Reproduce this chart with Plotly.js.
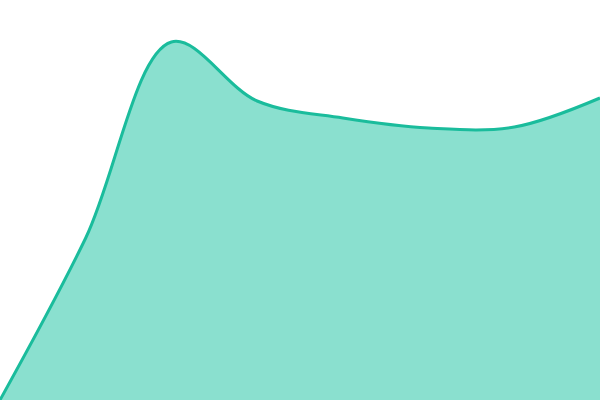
<!DOCTYPE html>
<html>
<head>
<meta charset="utf-8">
<script src="https://cdn.plot.ly/plotly-3.0.1.min.js"></script>
<style>
  html, body { margin: 0; padding: 0; background: #fff; }
  #chart { width: 600px; height: 400px; }
</style>
</head>
<body>
<div id="chart"></div>
<script>
// evenly spaced samples
const steps = [0, 1, 2, 3, 4, 5, 6, 7];
const values = [0, 162, 358, 299, 282, 272, 273, 302];

const area = {
    x: steps,
    y: values,
    type: 'scatter',
    mode: 'lines',
    fill: 'tozeroy',
    fillcolor: '#8ae0cf',
    line: {
        color: '#1abc9c',
        width: 3,
        shape: 'spline',
        smoothing: 1
    },
    hoverinfo: 'skip'
};

const layout = {
    width: 600,
    height: 400,
    margin: { l: 0, r: 0, t: 0, b: 0 },
    paper_bgcolor: '#fff',
    plot_bgcolor: '#fff',
    showlegend: false,
    xaxis: { range: [0, 7], visible: false, fixedrange: true },
    yaxis: { range: [0, 400], visible: false, fixedrange: true }
};

Plotly.newPlot('chart', [area], layout, { displayModeBar: false, staticPlot: true });
</script>
</body>
</html>
